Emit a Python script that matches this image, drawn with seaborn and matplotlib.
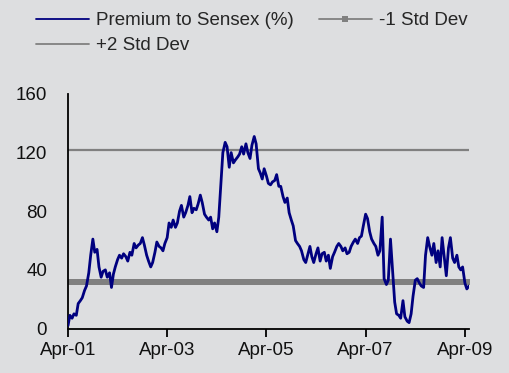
import matplotlib
matplotlib.use("Agg")
import matplotlib.pyplot as plt
from matplotlib.lines import Line2D
import numpy as np
import pandas as pd
import seaborn as sns

# Premium of the index to Sensex (%), semi-monthly readings from Apr-2001
premium = [
    2, 9, 7, 10, 9, 17, 19, 21, 26, 29,
    38, 50, 61, 52, 54, 42, 35, 39, 40, 35,
    38, 28, 37, 42, 47, 50, 48, 51, 49, 46,
    52, 50, 58, 55, 57, 58, 62, 57, 50, 46,
    42, 45, 52, 59, 56, 55, 53, 58, 62, 72,
    69, 74, 69, 72, 80, 84, 76, 79, 84, 90,
    79, 82, 81, 85, 91, 86, 78, 76, 74, 76,
    68, 72, 66, 76, 100, 120, 127, 124, 110, 120,
    113, 115, 117, 119, 124, 119, 126, 120, 116, 125,
    131, 126, 109, 106, 102, 109, 104, 99, 98, 100,
    101, 105, 97, 97, 90, 86, 89, 79, 74, 70,
    60, 58, 56, 53, 47, 45, 51, 56, 49, 45,
    51, 55, 46, 51, 52, 46, 50, 41, 49, 52,
    56, 58, 56, 53, 55, 51, 52, 56, 59, 61,
    58, 62, 63, 70, 78, 75, 66, 61, 58, 56,
    50, 53, 76, 34, 30, 33, 61, 42, 18, 10,
    9, 7, 19, 8, 5, 4, 10, 22, 33, 34,
    31, 29, 28, 50, 62, 56, 50, 58, 45, 53,
    42, 62, 48, 36, 55, 62, 48, 45, 50, 42,
    40, 42, 31, 27, 29,
]
dates = pd.date_range("2001-04-01", periods=len(premium), freq="SMS")

minus_1_sd = 31.5
plus_2_sd = 121.5

tick_dates = pd.to_datetime(["2001-04-01", "2003-04-01", "2005-04-01",
                             "2007-04-01", "2009-04-01"])
tick_labels = ["Apr-01", "Apr-03", "Apr-05", "Apr-07", "Apr-09"]
y_ticks = [0, 40, 80, 120, 160]

bg = "#DDDEE0"
navy = "#00007F"
grey = "#808080"
fs = 13.5

sns.set_theme(style="white")
plt.rcParams["font.family"] = ["Liberation Sans Narrow", "Liberation Sans", "DejaVu Sans"]
plt.rcParams["font.size"] = fs

fig = plt.figure(figsize=(5.09, 3.73), dpi=100, facecolor=bg)
ax = fig.add_axes([0.1336, 0.1193, 0.7878, 0.6287])
ax.set_facecolor(bg)

df = pd.DataFrame({"date": dates, "premium": premium})

# -1 std dev band: a grey line with square markers at every reading
ax.plot(df["date"], [minus_1_sd] * len(df), color=grey, lw=1,
        marker="s", markersize=5, markeredgewidth=0, zorder=1)
# +2 std dev line
ax.plot(df["date"], [plus_2_sd] * len(df), color=grey, lw=1.6, zorder=1)

sns.lineplot(data=df, x="date", y="premium", ax=ax, color=navy,
             linewidth=2.0, zorder=3)

ax.set_xlim(pd.Timestamp("2001-04-01"), pd.Timestamp("2009-05-01"))
ax.set_ylim(0, 160)
ax.set_xticks(tick_dates)
ax.set_xticklabels(tick_labels)
ax.set_yticks(y_ticks)
ax.set_xlabel("")
ax.set_ylabel("")

for side in ["top", "right"]:
    ax.spines[side].set_visible(False)
for side in ["left", "bottom"]:
    ax.spines[side].set_color("black")
    ax.spines[side].set_linewidth(1.3)

ax.tick_params(axis="x", direction="out", length=6, width=1.3, color="black",
               pad=4, labelsize=fs, labelcolor="#111111", bottom=True)
ax.tick_params(axis="y", length=0, pad=15, labelsize=fs, labelcolor="#111111")

handles = [
    Line2D([], [], color=navy, lw=1.3),
    Line2D([], [], color=grey, lw=1.3),
    Line2D([], [], color=grey, lw=1.3, marker="s", markersize=4,
           markeredgewidth=0),
]
labels = ["Premium to Sensex (%)", "+2 Std Dev", "-1 Std Dev"]
fig.legend(handles, labels, ncol=2, loc="upper left",
           bbox_to_anchor=(0.056, 0.987), frameon=False, fontsize=fs,
           handlelength=2.8, handletextpad=0.4, columnspacing=1.35,
           labelspacing=0.4, borderaxespad=0)

fig.savefig("out.png", dpi=100, facecolor=bg)
